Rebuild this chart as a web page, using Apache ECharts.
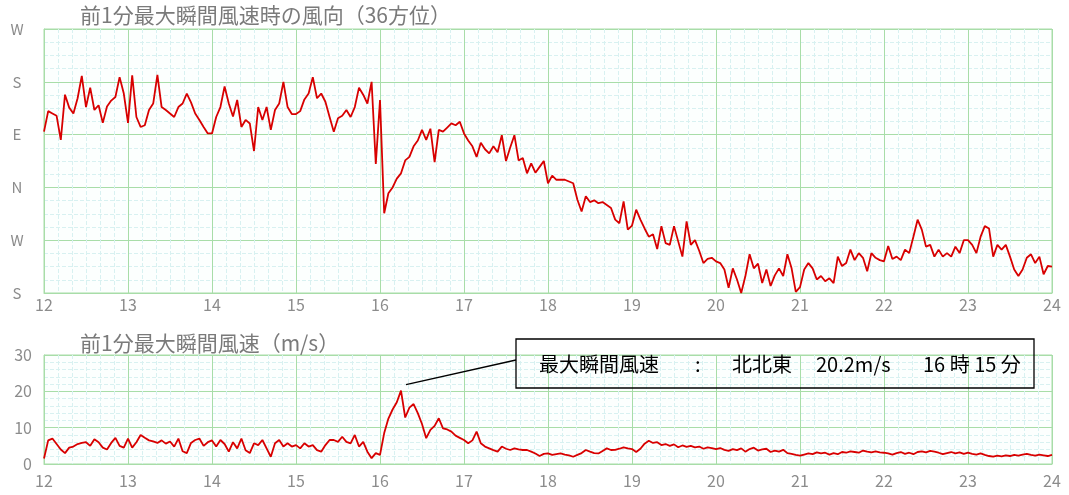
<!DOCTYPE html>
<html><head><meta charset="utf-8">
<script src="https://cdn.jsdelivr.net/npm/echarts@6/dist/echarts.min.js"></script>
<style>html,body{margin:0;padding:0;background:#fff}#c{width:1069px;height:495px}</style>
</head><body><div id="c"></div>
<script>
// ---- data (3-minute samples, 12:00 .. 24:00) ----
const startHour = 12;
const stepHours = 3 / 60;
const dirLabels = {180: 'S', 270: 'W', 360: 'N', 450: 'E', 540: 'S', 630: 'W'};

// wind direction, degrees (S=180, W=270, N=360, E=450, S=540, W=630)
const dir12 = [455,490,486,482,441,518,496,486,512,550,497,530,492,500,470,498,508,514,548,520];
const dir13 = [470,551,480,463,466,492,503,552,497,492,486,480,497,503,520,505,486,475,463,452];
const dir14 = [452,480,497,532,503,481,509,463,475,469,422,497,475,497,458,492,503,540,497,485];
const dir15 = [485,490,510,520,548,512,520,506,480,455,478,482,492,480,497,530,518,503,540,400];
const dir16 = [509,316,350,360,375,384,406,412,430,440,458,441,460,403,458,455,462,469,466,472];
const dir17 = [452,440,430,412,436,425,418,430,420,449,405,428,449,406,410,384,401,385,395,405];
const dir18 = [367,380,373,373,373,370,367,339,319,345,335,338,333,335,330,325,305,299,336,288];
const dir19 = [295,322,305,290,276,280,255,294,265,262,294,268,242,302,262,270,252,231,238,240];
const dir20 = [234,231,220,189,222,203,180,209,246,222,230,197,220,192,210,222,209,246,222,182];
const dir21 = [190,220,231,222,203,209,200,205,197,242,226,231,254,236,248,240,217,248,240,236];
const dir22 = [234,260,238,242,236,254,248,276,305,288,259,262,242,254,242,248,242,259,248,270];
const dir23 = [270,262,248,276,294,290,242,262,254,262,242,220,209,220,240,246,231,242,212,226,225];

// max gust speed, m/s
const spd12 = [1.5,6.5,7,5.5,4,3,4.5,4.8,5.5,5.8,6,5,6.8,6,4.5,4,5.8,7.2,5,4.5];
const spd13 = [7,4.5,6,8,7.2,6.5,6.2,5.8,6.5,5.6,6.2,4.8,7,3.5,3,5.8,6.6,7,5,6];
const spd14 = [6.5,4.8,6.6,5.5,3.4,6,4.3,7,3.8,3,5.7,5.2,6.6,4.3,2,5.7,6.6,4.8,5.7,4.8];
const spd15 = [5.2,4.3,5.7,4.8,5.2,3.8,3.4,5.2,6.6,6.6,6.1,7.5,6.1,5.7,8,4.8,6.1,3.4,1.6,3];
const spd16 = [2.5,8.5,12.5,15,17,20.2,12.8,15.5,16.5,14,11,7.1,9.4,10.5,12.6,9.8,9.5,8.9,7.8,7.2];
const spd17 = [6.6,5.7,6.5,8.9,5.7,4.8,4.3,3.8,3.4,4.8,4.2,3.85,4.3,4.0,3.85,3.85,3.4,2.9,2.2,2.8];
const spd18 = [2.9,2.5,2.7,2.9,2.6,2.4,2.0,2.5,3.0,3.85,3.4,3.0,2.9,3.6,4.3,3.85,3.9,4.2,4.6,4.3];
const spd19 = [4.1,3.3,4.2,5.6,6.4,5.8,6,5.2,5.5,5,5.4,4.6,5.1,4.7,5,4.6,4.8,4.2,4.6,4.4];
const spd20 = [4.1,4.4,3.9,3.6,4.1,3.8,4.3,3.4,4.1,4.5,3.7,4,4.2,3.3,3.7,3.4,3.9,3,2.8,2.5];
const spd21 = [2.3,2.6,2.9,2.7,3.2,2.9,3.1,2.6,3,2.7,3.3,3.1,3.5,3.3,3.1,3.7,3.4,3.2,3.5,3.2];
const spd22 = [3.1,2.9,2.6,3,3.3,2.8,3.1,2.7,3.3,3.5,3.2,3.6,3.4,3.1,2.7,3,3.3,2.9,3.2,2.8];
const spd23 = [3.1,2.8,2.6,2.9,2.5,2.2,2.0,2.3,2.1,2.4,2.2,2.5,2.3,2.6,2.8,2.5,2.3,2.6,2.4,2.2,2.5];

const title1 = '前1分最大瞬間風速時の風向（36方位）';
const title2 = '前1分最大瞬間風速（m/s）';
const noteParts = ['最大瞬間風速', ':', '北北東', '20.2m/s', '16 時 15 分'];

// ---- build ----
const dirValues = [].concat(dir12,dir13,dir14,dir15,dir16,dir17,dir18,dir19,dir20,dir21,dir22,dir23);
const spdValues = [].concat(spd12,spd13,spd14,spd15,spd16,spd17,spd18,spd19,spd20,spd21,spd22,spd23);
const times = dirValues.map((_, i) => +(startHour + i * stepHours).toFixed(4));

const green = '#a8dda8';
const minorC = '#d8f1f1';
const labelC = '#8c8c8c';
const FONT = '"Noto Sans CJK JP", "DejaVu Sans", sans-serif';

function xAxisCfg(gi, margin) {
  return {
    type: 'value', gridIndex: gi, min: 12, max: 24, interval: 1,
    axisLine: {show: true, lineStyle: {color: green}},
    axisTick: {show: false},
    axisLabel: {color: labelC, fontSize: 16, margin: margin, fontFamily: FONT},
    splitLine: {show: true, lineStyle: {color: green, width: 1}},
    minorTick: {show: false, splitNumber: 6},
    minorSplitLine: {show: true, lineStyle: {color: minorC, type: 'dashed', width: 1}}
  };
}

const chart = echarts.init(document.getElementById('c'));
const option = {
  animation: false,
  backgroundColor: '#ffffff',
  grid: [
    {left: 44, top: 29, width: 1008, height: 264, show: true, borderColor: green, borderWidth: 1, backgroundColor: '#fcfffe'},
    {left: 44, top: 355, width: 1008, height: 109, show: true, borderColor: green, borderWidth: 1, backgroundColor: '#fcfffe'}
  ],
  xAxis: [xAxisCfg(0, 4), xAxisCfg(1, 9)],
  yAxis: [
    {
      type: 'value', gridIndex: 0, min: 180, max: 630, interval: 90,
      axisLine: {show: true, lineStyle: {color: green}},
      axisTick: {show: false},
      axisLabel: {formatter: v => dirLabels[v] || '', color: labelC, fontSize: 15, align: 'center', margin: 27, fontFamily: FONT},
      splitLine: {show: true, lineStyle: {color: green}},
      minorTick: {show: false, splitNumber: 4},
      minorSplitLine: {show: true, lineStyle: {color: minorC, type: 'dashed'}}
    },
    {
      type: 'value', gridIndex: 1, min: 0, max: 30, interval: 10,
      axisLine: {show: true, lineStyle: {color: green}},
      axisTick: {show: false},
      axisLabel: {color: labelC, fontSize: 16, margin: 12, fontFamily: FONT},
      splitLine: {show: true, lineStyle: {color: green}},
      minorTick: {show: false, splitNumber: 5},
      minorSplitLine: {show: true, lineStyle: {color: minorC, type: 'dashed'}}
    }
  ],
  series: [
    {type: 'line', xAxisIndex: 0, yAxisIndex: 0, showSymbol: false, silent: true,
     data: times.map((t, i) => [t, dirValues[i]]),
     lineStyle: {color: '#d80000', width: 1.8}},
    {type: 'line', xAxisIndex: 1, yAxisIndex: 1, showSymbol: false, silent: true,
     data: times.map((t, i) => [t, spdValues[i]]),
     lineStyle: {color: '#d80000', width: 1.8}}
  ]
};
chart.setOption(option);

// annotation
let peakIdx = 0;
spdValues.forEach((v, i) => { if (v > spdValues[peakIdx]) peakIdx = i; });
const p = chart.convertToPixel({xAxisIndex: 1, yAxisIndex: 1}, [times[peakIdx], spdValues[peakIdx]]);
const boxX = 516, boxY = 339, boxW = 518, boxH = 49;
const noteX = [539, 695, 732, 816, 923];
const graphics = [
  {type: 'text', left: 80, top: 5, style: {text: title1, fill: '#7a7a7a', fontSize: 21, fontFamily: FONT}},
  {type: 'text', left: 80, top: 333, style: {text: title2, fill: '#7a7a7a', fontSize: 21, fontFamily: FONT}},
  {type: 'rect', shape: {x: boxX, y: boxY, width: boxW, height: boxH}, style: {fill: 'none', stroke: '#000', lineWidth: 1.3}, z: 100},
  {type: 'line', shape: {x1: p[0] + 5, y1: p[1] - 6, x2: boxX, y2: boxY + 21}, style: {stroke: '#000', lineWidth: 1.3}, z: 100}
];
noteParts.forEach((t, i) => {
  graphics.push({type: 'text', x: noteX[i], y: boxY + boxH / 2 + 1, z: 100,
    style: {text: t, fill: '#000', fontSize: 20, fontFamily: FONT, verticalAlign: 'middle', textVerticalAlign: 'middle'}});
});
chart.setOption({graphic: graphics});
</script>
</body></html>
